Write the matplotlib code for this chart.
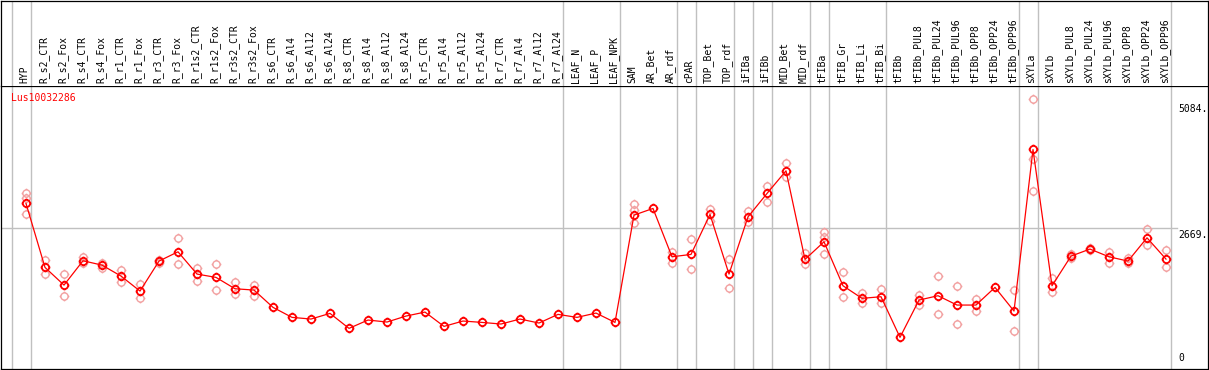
import numpy as np
import matplotlib
matplotlib.use("Agg")
import matplotlib.pyplot as plt
from matplotlib.path import Path

# --- data ---
samples = [
    "HYP", "R_s2_CTR", "R_s2_Fox", "R_s4_CTR", "R_s4_Fox", "R_r1_CTR", "R_r1_Fox",
    "R_r3_CTR", "R_r3_Fox", "R_r1s2_CTR", "R_r1s2_Fox", "R_r3s2_CTR", "R_r3s2_Fox",
    "R_s6_CTR", "R_s6_Al4", "R_s6_Al12", "R_s6_Al24", "R_s8_CTR", "R_s8_Al4",
    "R_s8_Al12", "R_s8_Al24", "R_r5_CTR", "R_r5_Al4", "R_r5_Al12", "R_r5_Al24",
    "R_r7_CTR", "R_r7_Al4", "R_r7_Al12", "R_r7_Al24", "LEAF_N", "LEAF_P", "LEAF_NPK",
    "SAM", "AR_Bet", "AR_rdf", "cPAR", "TOP_Bet", "TOP_rdf", "iFIBa", "iFIBb",
    "MID_Bet", "MID_rdf", "tFIBa", "tFIB_Gr", "tFIB_Li", "tFIB_Bi", "tFIBb",
    "tFIBb_PUL8", "tFIBb_PUL24", "tFIBb_PUL96", "tFIBb_OPP8", "tFIBb_OPP24",
    "tFIBb_OPP96", "sXYLa", "sXYLb", "sXYLb_PUL8", "sXYLb_PUL24", "sXYLb_PUL96",
    "sXYLb_OPP8", "sXYLb_OPP24", "sXYLb_OPP96",
]
mean_expr = [
    3140, 1919, 1582, 2046, 1963, 1754, 1468, 2040, 2217, 1792, 1729, 1512, 1487,
    1157, 966, 934, 1042, 756, 915, 877, 991, 1067, 794, 896, 870, 839, 934, 858,
    1023, 966, 1048, 870, 2917, 3044, 2122, 2167, 2930, 1792, 2884, 3330, 3762,
    2072, 2408, 1569, 1329, 1360, 585, 1296, 1379, 1201, 1201, 1538, 1087, 4169,
    1569, 2135, 2269, 2122, 2040, 2484, 2078,
]
nan = np.nan
rep1 = [
    3330, 2059, 1786, 2122, 1996, 1868, 1595, 2059, 2472, 1912, 1983, 1640, 1582,
    nan, nan, nan, nan, nan, nan, nan, nan, nan, nan, nan, nan, nan, nan, nan, nan,
    nan, nan, nan, 3120, nan, 2217, 2459, 3031, 2072, 2999, 3476, 3902, 2186, 2587,
    1836, 1436, 1500, nan, 1392, 1754, 1563, 1309, nan, 1487, 5141, 1710, 2180,
    2290, 2217, 2103, 2644, 2250,
]
rep2 = [
    2936, 1786, 1372, 2008, 1912, 1645, 1341, 2008, 1983, 1664, 1487, 1411, 1372,
    nan, nan, nan, nan, nan, nan, nan, nan, nan, nan, nan, nan, nan, nan, nan, nan,
    nan, nan, nan, 2758, nan, 1996, 1881, 2808, 1519, 2789, 3159, 3647, 1977, 2167,
    1348, 1233, 1233, nan, 1201, 1029, 833, 1093, nan, 705, 3374, 1455, 2090,
    2250, 1996, 1996, 2345, 1920,
]
rep3 = [3235] + [nan] * 31 + [3012] + [nan] * 9 + [2503] + [nan] * 10 + [3984] + [nan] * 7
group_ends = [-1, 0, 28, 31, 34, 35, 37, 38, 39, 41, 42, 45, 52, 53, 60]
gene = "Lus10032286"
yticks = [0, 2669, 5084]
ytick_labels = ["0", "2669.", "5084."]

# --- layout (pixel geometry of the original 1209x370 image) ---
W, H = 1209, 370
fig = plt.figure(figsize=(W / 100, H / 100), dpi=100)
ax = fig.add_axes([0.5 / W, (H - 368.5) / H, 1207 / W, 283 / H])
lab = fig.add_axes([0.5 / W, (H - 85.5) / H, 1207 / W, 85 / H], sharex=ax)

x = np.arange(len(samples))
ax.set_xlim((0.5 - 26) / 19, (1207.5 - 26) / 19)
ax.set_ylim(-9.5, 5390)
lab.set_ylim(0, 1)

grey = "#c0c0c0"
for g in group_ends:
    ax.axvline(g + 0.25, color=grey, lw=1.0, zorder=1)
    lab.axvline(g + 0.25, color=grey, lw=1.0, zorder=1)
ax.axhline(2669, xmin=0, xmax=(1177 - 0.5) / 1207, color=grey, lw=1.0, zorder=1)

# circle marker with small outward ticks
circ = Path.unit_circle()
ticks = []
for a in np.deg2rad([90, 270, 0, 180]):
    ticks.append(Path([(np.cos(a), np.sin(a)), (1.35 * np.cos(a), 1.35 * np.sin(a))],
                      [Path.MOVETO, Path.LINETO]))
mk = Path.make_compound_path(circ, *ticks)

for reps in (rep1, rep2, rep3):
    ax.plot(x, reps, ls="none", marker=mk, ms=7, mfc="none", mec="#f2a0a0",
            mew=1.0, zorder=2)
ax.plot(x, mean_expr, color="red", lw=0.9, zorder=3)
ax.plot(x, mean_expr, ls="none", marker=mk, ms=7, mfc="none", mec="red",
        mew=1.3, zorder=4)

mono = "DejaVu Sans Mono"
for xi, name in zip(x, samples):
    lab.text(xi - 0.08, 0.03, name, rotation=90, ha="center", va="bottom",
             fontsize=7, family=mono, color="black")

ax.text(10 / 1207, 1 - 7 / 283, gene, transform=ax.transAxes, ha="left", va="top",
        fontsize=7, family=mono, color="red")
for v, t in zip(yticks, ytick_labels):
    ax.annotate(t, xy=((1178 - 0.5) / 1207, v), xycoords=("axes fraction", "data"),
                xytext=(0, -2 if v > 0 else 5), textcoords="offset pixels",
                ha="left", va="top" if v > 0 else "bottom", fontsize=7,
                family=mono, color="black")

for a in (ax, lab):
    a.set_xticks([])
    a.set_yticks([])
    for s in a.spines.values():
        s.set_color("black")
        s.set_linewidth(0.9)
lab.spines["bottom"].set_visible(False)

fig.savefig("out.png", dpi=100)
